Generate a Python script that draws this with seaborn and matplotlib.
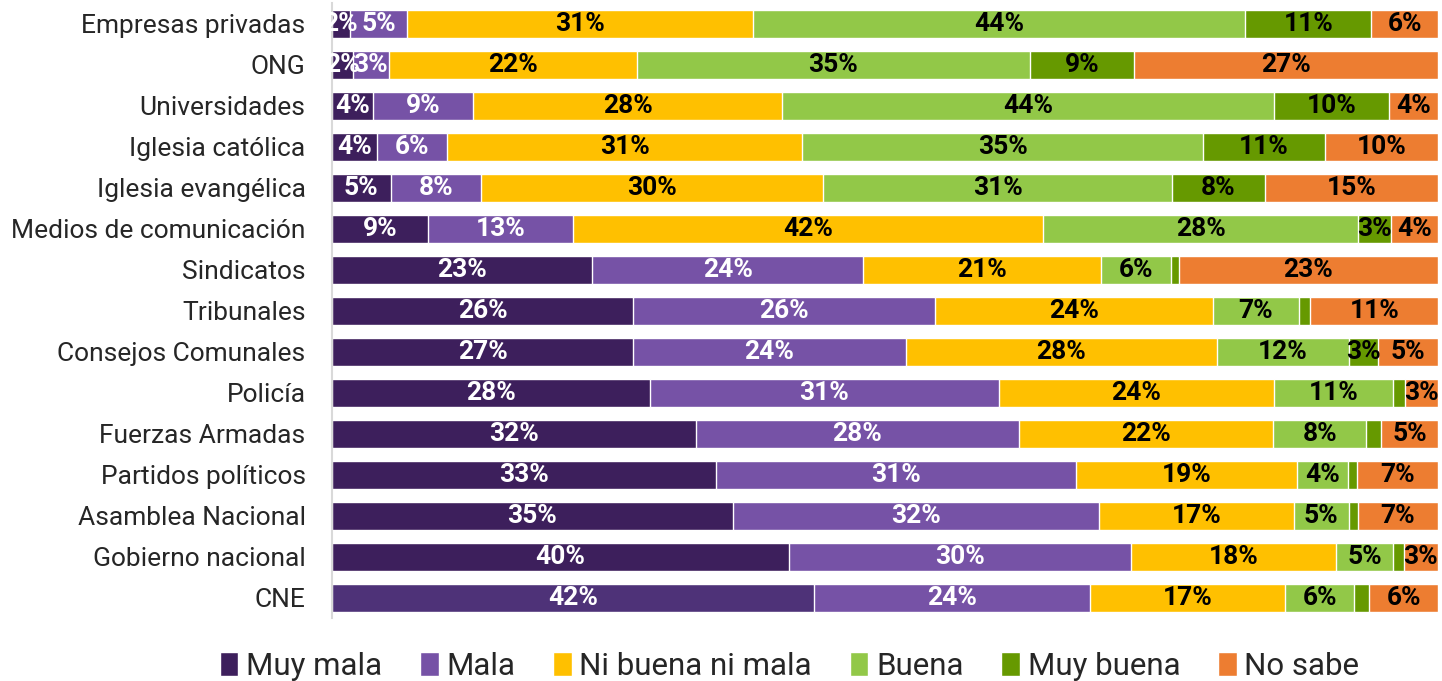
import pandas as pd
import numpy as np
import matplotlib
matplotlib.use('Agg')
import matplotlib.pyplot as plt
from matplotlib.patches import Patch
import seaborn as sns

instituciones = ['Empresas privadas', 'ONG', 'Universidades', 'Iglesia católica',
                 'Iglesia evangélica', 'Medios de comunicación', 'Sindicatos',
                 'Tribunales', 'Consejos Comunales', 'Policía', 'Fuerzas Armadas',
                 'Partidos políticos', 'Asamblea Nacional', 'Gobierno nacional', 'CNE']
categorias = ['Muy mala', 'Mala', 'Ni buena ni mala', 'Buena', 'Muy buena', 'No sabe']

muy_mala = [1.6, 1.9, 3.7, 4.0, 5.2, 8.7, 23.4, 26.0, 27.0, 28.2, 32.0, 33.0, 35.0, 40.0, 42.0]
mala     = [5.2, 3.2, 9.0, 6.2, 8.0, 13.0, 24.4, 26.0, 24.4, 31.0, 28.4, 31.0, 32.0, 30.0, 24.0]
ni_ni    = [31.2, 22.4, 27.9, 31.4, 30.4, 42.4, 21.4, 24.0, 27.9, 24.4, 22.4, 19.0, 17.0, 18.0, 17.0]
buena    = [44.4, 35.4, 44.3, 35.4, 31.0, 28.4, 6.3, 7.4, 11.8, 10.6, 8.2, 4.4, 4.8, 5.0, 6.0]
muy_buena = [11.4, 9.4, 10.4, 10.8, 8.2, 3.0, 0.7, 1.0, 2.6, 1.1, 1.3, 0.7, 0.8, 0.9, 1.3]
no_sabe  = [6.0, 27.4, 4.4, 10.0, 15.4, 4.2, 23.3, 11.0, 5.4, 2.9, 5.0, 7.0, 7.0, 3.0, 6.0]

colores = ['#3d1f5c', '#7652a6', '#ffc000', '#92c848', '#669900', '#ed7d31']
color_texto = ['white', 'white', 'black', 'black', 'black', 'black']

df = pd.DataFrame({'Muy mala': muy_mala, 'Mala': mala, 'Ni buena ni mala': ni_ni,
                   'Buena': buena, 'Muy buena': muy_buena, 'No sabe': no_sabe},
                  index=instituciones)
# 100% apilado, como en el grafico original
pct = df.div(df.sum(axis=1), axis=0) * 100
acum = pct.cumsum(axis=1)

sns.set_style('white')
plt.rcParams['font.family'] = ['Roboto', 'DejaVu Sans']

fig = plt.figure(figsize=(14.42, 6.81), dpi=100)
ax = fig.add_axes([0.2302, 0.092, 0.7670, 0.903])

# barras superpuestas de la acumulada mayor a la menor
for i in range(len(categorias) - 1, -1, -1):
    cat = categorias[i]
    sns.barplot(x=acum[cat].values, y=instituciones, orient='h', color=colores[i],
                saturation=1, width=0.68, ax=ax)

# CNE tiene un tono algo mas claro en el original
ax.patches[-1].set_facecolor('#4e3278')

for j, inst in enumerate(instituciones):
    inicio = 0
    for i, cat in enumerate(categorias):
        fin = acum.loc[inst, cat]
        valor = df.loc[inst, cat]
        if valor >= 1.5:
            ax.text((inicio + fin) / 2, j, f'{valor:.0f}%', ha='center', va='center',
                    fontsize=19, fontweight='bold', color=color_texto[i])
        inicio = fin

ax.set_xlim(0, 100)
ax.set_ylim(len(instituciones) - 0.5, -0.5)
ax.set_xlabel('')
ax.set_ylabel('')
ax.set_xticks([])
ax.tick_params(axis='y', length=0, labelsize=19, pad=19, colors='#262626')
for s in ['top', 'right', 'bottom']:
    ax.spines[s].set_visible(False)
ax.spines['left'].set_color('#d9d9d9')
ax.spines['left'].set_linewidth(1.5)

handles = [Patch(facecolor=c, label=l) for c, l in zip(colores, categorias)]
fig.legend(handles=handles, loc='center', bbox_to_anchor=(0.5475, 0.022), ncol=6,
           frameon=False, fontsize=22.5, handlelength=0.6, handleheight=0.8,
           handletextpad=0.25, columnspacing=1.2)

plt.savefig('out.png', dpi=100)
